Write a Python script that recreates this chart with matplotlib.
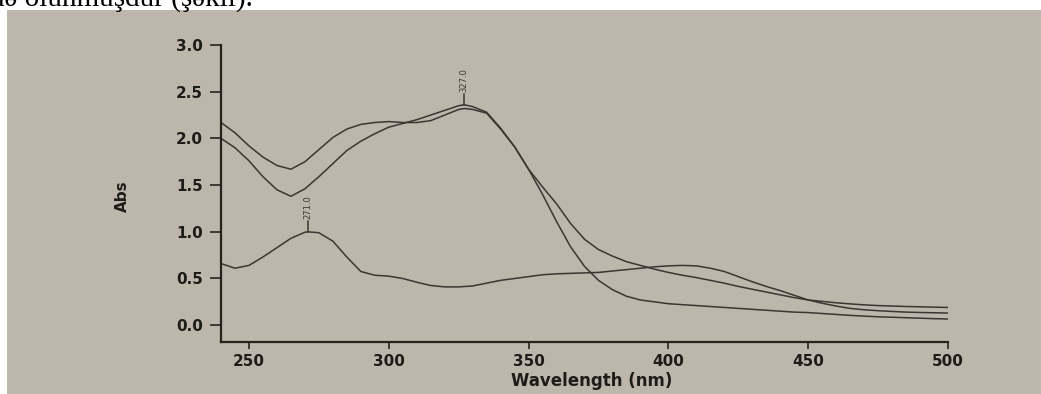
import matplotlib
matplotlib.use("Agg")
import matplotlib.pyplot as plt
from matplotlib.patches import Rectangle

# ---- spectra (wavelength in nm, absorbance) ----
wl_a = [240, 245, 250, 255, 260, 265, 270, 275, 280, 285, 290, 295, 300, 305, 310,
        315, 320, 325, 327, 330, 335, 340, 345, 350, 355, 360, 365, 370, 375, 380,
        385, 390, 395, 400, 405, 410, 415, 420, 425, 430, 435, 440, 445, 450, 455,
        460, 465, 470, 475, 480, 485, 490, 495, 500]
abs_a = [2.17, 2.06, 1.92, 1.80, 1.71, 1.67, 1.75, 1.88, 2.01, 2.10, 2.15, 2.17, 2.18, 2.17, 2.17,
         2.19, 2.25, 2.31, 2.32, 2.31, 2.27, 2.10, 1.91, 1.67, 1.40, 1.11, 0.84, 0.63, 0.48, 0.38,
         0.31, 0.27, 0.25, 0.23, 0.22, 0.21, 0.20, 0.19, 0.18, 0.17, 0.16, 0.15, 0.14, 0.135, 0.125,
         0.115, 0.105, 0.097, 0.09, 0.085, 0.08, 0.075, 0.07, 0.066]

wl_b = [240, 245, 250, 255, 260, 265, 270, 275, 280, 285, 290, 295, 300, 305, 310,
        315, 320, 325, 327, 330, 335, 340, 345, 350, 355, 360, 365, 370, 375, 380,
        385, 390, 395, 400, 405, 410, 415, 420, 425, 430, 435, 440, 445, 450, 455,
        460, 465, 470, 475, 480, 485, 490, 495, 500]
abs_b = [2.00, 1.90, 1.76, 1.59, 1.45, 1.38, 1.46, 1.59, 1.73, 1.87, 1.97, 2.05, 2.12, 2.16, 2.20,
         2.25, 2.30, 2.35, 2.36, 2.34, 2.28, 2.11, 1.91, 1.67, 1.48, 1.30, 1.09, 0.92, 0.81, 0.74,
         0.68, 0.64, 0.60, 0.565, 0.535, 0.51, 0.48, 0.45, 0.415, 0.385, 0.355, 0.325, 0.295, 0.27, 0.255,
         0.24, 0.228, 0.218, 0.21, 0.205, 0.20, 0.197, 0.193, 0.19]

wl_c = [240, 245, 250, 255, 260, 265, 270, 271, 275, 280, 285, 290, 295, 300, 305,
        310, 315, 320, 325, 330, 335, 340, 345, 350, 355, 360, 365, 370, 375, 380,
        385, 390, 395, 400, 405, 410, 415, 420, 425, 430, 435, 440, 445, 450, 455,
        460, 465, 470, 475, 480, 485, 490, 495, 500]
abs_c = [0.66, 0.61, 0.64, 0.73, 0.83, 0.93, 0.995, 1.00, 0.99, 0.90, 0.73, 0.575, 0.535, 0.525, 0.50,
         0.46, 0.425, 0.41, 0.41, 0.42, 0.45, 0.48, 0.50, 0.52, 0.54, 0.55, 0.555, 0.56, 0.565, 0.58,
         0.595, 0.61, 0.625, 0.635, 0.64, 0.635, 0.61, 0.575, 0.52, 0.465, 0.415, 0.37, 0.32, 0.27, 0.235,
         0.205, 0.18, 0.165, 0.155, 0.147, 0.14, 0.136, 0.133, 0.13]

# peak markers: (wavelength, absorbance at peak)
peaks = [(271.0, 1.00), (327.0, 2.36)]

x_ticks = [250, 300, 350, 400, 450, 500]
y_ticks = [0.0, 0.5, 1.0, 1.5, 2.0, 2.5, 3.0]

paper = "#bdb6aa"
ink = "#3a3632"
axis_ink = "#26231f"
label_ink = "#1e1c19"

W, H = 1041, 394
fig = plt.figure(figsize=(W / 100, H / 100), dpi=100)
fig.patch.set_facecolor(paper)

# white page margins around the photographed chart
fig.patches.append(Rectangle((0, 1 - 10 / H), 1, 10 / H, transform=fig.transFigure,
                             facecolor="white", edgecolor="none", zorder=0))
fig.patches.append(Rectangle((0, 0), 7 / W, 1, transform=fig.transFigure,
                             facecolor="white", edgecolor="none", zorder=0))
fig.text(-10 / W, 1 - 6 / H, "də olunmuşdur (şəkil).", family="Liberation Serif",
         fontsize=21, color="black", ha="left", va="baseline")

ax = fig.add_axes([221 / W, 1 - 342 / H, (948 - 221) / W, (342 - 45) / H])
ax.set_facecolor("none")

for wl, ab in ((wl_a, abs_a), (wl_b, abs_b), (wl_c, abs_c)):
    ax.plot(wl, ab, color=ink, lw=1.1, solid_joinstyle="round")

for px, py in peaks:
    ax.plot([px, px], [py, py + 0.12], color=ink, lw=1.1)
    ax.text(px, py + 0.14, f"{px:.1f}", rotation=90, ha="center", va="bottom",
            fontsize=6, color=ink)

ax.set_xlim(240, 500)
ax.set_ylim(-0.18, 3.0)
ax.set_xticks(x_ticks)
ax.set_xticklabels([str(v) for v in x_ticks])
ax.set_yticks(y_ticks)
ax.set_yticklabels([f"{v:.1f}" for v in y_ticks])

for side in ("top", "right"):
    ax.spines[side].set_visible(False)
for side in ("left", "bottom"):
    ax.spines[side].set_color(axis_ink)
    ax.spines[side].set_linewidth(1.6)

ax.tick_params(axis="y", direction="out", length=8, width=1.2, colors=axis_ink,
               labelsize=11, pad=5)
ax.tick_params(axis="x", direction="out", length=5, width=1.2, colors=axis_ink,
               labelsize=11, pad=4)
for lab in ax.get_xticklabels() + ax.get_yticklabels():
    lab.set_fontweight("bold")
    lab.set_color(label_ink)

ax.set_xlabel("Wavelength (nm)", fontsize=12, fontweight="bold", color=label_ink)
ax.xaxis.set_label_coords((592 - 221) / (948 - 221), -0.10)
ax.set_ylabel("Abs", fontsize=11, fontweight="bold", color=label_ink)
ax.yaxis.set_label_coords((130 - 221) / (948 - 221), 0.49)

fig.savefig("out.png", dpi=100, facecolor=fig.get_facecolor())
